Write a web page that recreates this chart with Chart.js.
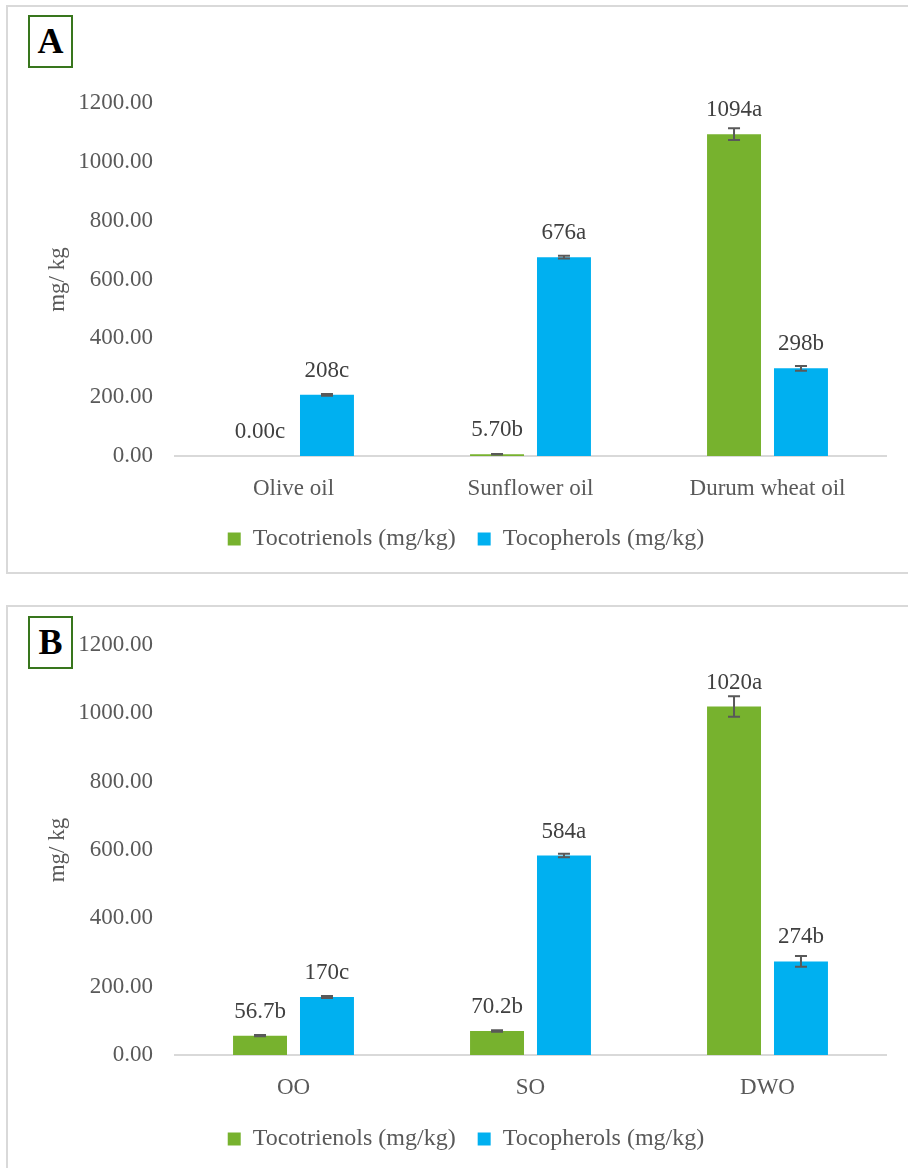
<!DOCTYPE html>
<html>
<head>
<meta charset="utf-8">
<script src="https://cdn.jsdelivr.net/npm/chart.js@4.4.1/dist/chart.umd.min.js"></script>
<style>
  body { margin: 0; background: #fff; width: 908px; height: 1168px; overflow: hidden; position: relative; }
  .panel { position: absolute; left: 6px; width: 960px; border: 2px solid #d9d9d9; box-sizing: border-box; }
  #panelA { top: 5px; height: 569px; }
  #panelB { top: 605px; height: 620px; }
  .wrap { position: absolute; left: 8px; width: 900px; }
  #wrapA { top: 8px; height: 564px; }
  #wrapB { top: 608px; height: 560px; }
  .tag { position: absolute; left: 28px; width: 45px; height: 53px; border: 2px solid #38761d; box-sizing: border-box;
         font-family: "Liberation Serif", serif; font-weight: bold; font-size: 36px; line-height: 49px; text-align: center; color: #000; background: #fff; }
  #tagA { top: 15px; }
  #tagB { top: 616px; }
</style>
</head>
<body>
<div class="panel" id="panelA"></div>
<div class="panel" id="panelB"></div>
<div class="wrap" id="wrapA"><canvas id="chartA"></canvas></div>
<div class="wrap" id="wrapB"><canvas id="chartB"></canvas></div>
<div class="tag" id="tagA">A</div>
<div class="tag" id="tagB">B</div>
<script>
// data
const categoriesA = ["Olive oil", "Sunflower oil", "Durum wheat oil"];
const categoriesB = ["OO", "SO", "DWO"];
const seriesNames = ["Tocotrienols (mg/kg)", "Tocopherols (mg/kg)"];

const tocotrienolsA = [0, 5.7, 1094];
const tocopherolsA = [208, 676, 298];
const tocotrienolsErrA = [0, 1, 20];
const tocopherolsErrA = [3, 5, 8];
const tocotrienolsLabelsA = ["0.00c", "5.70b", "1094a"];
const tocopherolsLabelsA = ["208c", "676a", "298b"];

const tocotrienolsB = [56.7, 70.2, 1020];
const tocopherolsB = [170, 584, 274];
const tocotrienolsErrB = [2, 2, 30];
const tocopherolsErrB = [3, 5, 16];
const tocotrienolsLabelsB = ["56.7b", "70.2b", "1020a"];
const tocopherolsLabelsB = ["170c", "584a", "274b"];

const yMax = 1200;
const yStep = 200;

const green = "#77b22e";
const blue = "#00b0f0";
const serif = '"Liberation Serif", "Times New Roman", serif';

Chart.defaults.font.family = serif;
Chart.defaults.color = "#595959";

// error bars + value labels drawn on top of the bars
const barExtras = {
  id: "barExtras",
  afterDatasetsDraw(chart) {
    const ctx = chart.ctx;
    const yScale = chart.scales.y;
    chart.data.datasets.forEach((ds, di) => {
      const meta = chart.getDatasetMeta(di);
      meta.data.forEach((bar, i) => {
        const v = ds.data[i];
        const e = ds.errors[i];
        ctx.save();
        if (e > 0) {
          const yHi = yScale.getPixelForValue(v + e);
          const yLo = yScale.getPixelForValue(v - e);
          ctx.strokeStyle = "#595959";
          ctx.lineWidth = 2;
          ctx.beginPath();
          ctx.moveTo(bar.x, yHi);
          ctx.lineTo(bar.x, yLo);
          ctx.moveTo(bar.x - 6, yHi);
          ctx.lineTo(bar.x + 6, yHi);
          ctx.moveTo(bar.x - 6, yLo);
          ctx.lineTo(bar.x + 6, yLo);
          ctx.stroke();
        }
        ctx.fillStyle = "#404040";
        ctx.font = "23px " + serif;
        ctx.textAlign = "center";
        ctx.textBaseline = "middle";
        ctx.fillText(ds.valueLabels[i], bar.x, bar.y - 24);
        ctx.restore();
      });
    });
  }
};

function makeChart(id, cats, d1, d2, e1, e2, l1, l2, padTop, padBottom, xHeight) {
  return new Chart(document.getElementById(id), {
    type: "bar",
    data: {
      labels: cats,
      datasets: [
        { label: seriesNames[0], data: d1, errors: e1, valueLabels: l1, backgroundColor: green, borderWidth: 0 },
        { label: seriesNames[1], data: d2, errors: e2, valueLabels: l2, backgroundColor: blue, borderWidth: 0 }
      ]
    },
    options: {
      responsive: true,
      maintainAspectRatio: false,
      animation: false,
      categoryPercentage: 0.565,
      barPercentage: 0.806,
      layout: { padding: { top: padTop, right: 22, bottom: padBottom, left: 38 } },
      plugins: {
        tooltip: { enabled: false },
        legend: {
          position: "bottom",
          labels: { font: { size: 24 }, color: "#595959", boxWidth: 13, boxHeight: 13, padding: 22 }
        }
      },
      scales: {
        x: {
          grid: { display: false, drawTicks: false },
          border: { color: "#d9d9d9", width: 2 },
          ticks: { font: { size: 23 }, color: "#595959", padding: 19 },
          afterFit(s) { s.height = xHeight; }
        },
        y: {
          min: 0,
          max: yMax,
          grid: { display: false, drawTicks: false },
          border: { display: false },
          ticks: {
            stepSize: yStep,
            font: { size: 23 },
            color: "#595959",
            padding: 22,
            callback: (v) => v.toFixed(2)
          },
          title: { display: true, text: "mg/ kg", font: { size: 23 }, color: "#595959", padding: { top: -2, bottom: 0 } },
          afterFit(s) { s.width = 129; }
        }
      }
    },
    plugins: [barExtras]
  });
}

makeChart("chartA", categoriesA, tocotrienolsA, tocopherolsA, tocotrienolsErrA, tocopherolsErrA,
  tocotrienolsLabelsA, tocopherolsLabelsA, 95, 11, 49);
makeChart("chartB", categoriesB, tocotrienolsB, tocopherolsB, tocotrienolsErrB, tocopherolsErrB,
  tocotrienolsLabelsB, tocopherolsLabelsB, 37, 7, 50);
</script>
</body>
</html>
